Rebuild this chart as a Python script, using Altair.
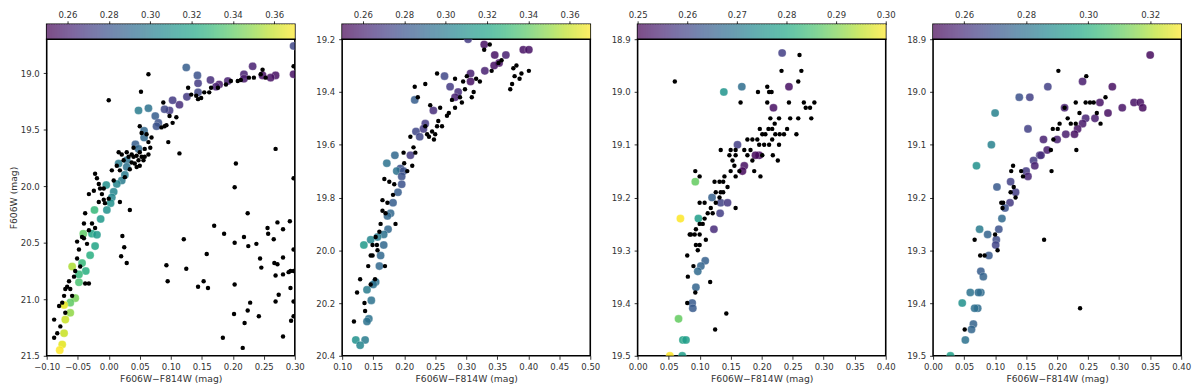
import altair as alt
import numpy as np
import pandas as pd

# ---------------- data ----------------
# Panel 1: black field/cluster stars (colour, magnitude)
black1 = [
    (0.064, 19.01), (0.052, 19.165), (0.000, 19.24), (0.128, 19.13), (0.133, 19.19), (0.144, 19.23),
    (0.149, 19.22), (0.154, 19.17), (0.162, 19.17), (0.176, 19.13), (0.189, 19.10), (0.197, 19.07),
    (0.208, 19.07), (0.226, 19.04), (0.234, 19.04), (0.248, 18.97), (0.253, 19.04), (0.245, 19.01),
    (0.298, 18.94), (0.088, 19.26), (0.098, 19.38), (0.109, 19.39), (0.085, 19.48), (0.090, 19.47),
    (0.050, 19.47), (0.053, 19.53), (0.061, 19.54), (0.069, 19.57), (0.064, 19.61), (0.040, 19.66),
    (0.050, 19.70), (0.058, 19.67), (0.064, 19.72), (0.053, 19.74), (0.048, 19.77), (0.042, 19.80),
    (0.037, 19.79), (0.032, 19.74), (0.021, 19.72), (0.016, 19.70), (0.024, 19.77), (0.013, 19.82),
    (0.018, 19.86), (0.026, 19.92), (0.005, 19.86), (0.008, 19.95), (-0.022, 19.89), (-0.019, 19.93),
    (-0.014, 20.02), (-0.024, 20.04), (-0.011, 20.07), (-0.008, 20.12), (-0.016, 20.14), (-0.006, 20.15),
    (0.000, 20.11), (0.018, 20.14), (0.034, 20.21), (-0.032, 20.07), (-0.038, 20.24), (-0.040, 20.33),
    (-0.027, 20.33), (-0.032, 20.39), (-0.022, 20.37), (-0.043, 20.45), (-0.051, 20.49), (-0.040, 20.46),
    (-0.035, 20.51), (-0.048, 20.56), (-0.051, 20.64), (-0.046, 20.71), (-0.054, 20.75), (-0.056, 20.80),
    (-0.064, 20.84), (-0.067, 20.89), (-0.072, 20.97), (-0.075, 21.03), (-0.080, 21.06), (-0.070, 21.12),
    (-0.088, 21.18), (-0.083, 21.30), (-0.088, 21.34), (-0.078, 21.24), (-0.038, 20.86), (-0.032, 20.86),
    (-0.062, 20.91), (-0.059, 20.97), (-0.070, 20.91),
    (0.045, 19.73), (0.056, 19.77), (0.050, 19.82), (0.040, 19.74), (0.058, 19.74), (0.045, 19.83),
    (0.034, 19.85), (0.029, 19.70), (0.037, 19.72), (0.067, 19.66), (-0.016, 19.98), (-0.008, 20.02),
    (0.165, 19.13), (0.213, 19.06), (0.141, 19.20), (0.103, 19.44), (0.093, 19.46),
    (0.096, 19.61), (0.114, 19.71), (0.205, 19.80), (0.203, 20.01), (0.269, 19.67), (0.298, 19.93),
    (0.022, 20.44), (0.025, 20.54), (0.020, 20.62), (0.029, 20.68), (0.121, 20.47), (0.158, 20.60),
    (0.093, 20.70), (0.125, 20.73), (0.095, 20.84), (0.144, 20.89), (0.153, 20.84), (0.160, 20.90),
    (0.170, 20.35), (0.186, 20.42), (0.203, 20.50), (0.203, 20.87), (0.218, 20.45), (0.224, 20.24),
    (0.225, 20.53), (0.238, 20.51), (0.256, 20.37), (0.257, 20.42), (0.272, 20.32), (0.281, 20.38),
    (0.292, 20.31), (0.266, 20.47), (0.244, 20.64), (0.246, 20.72), (0.267, 20.68), (0.272, 20.69),
    (0.281, 20.63), (0.269, 20.79), (0.281, 20.78), (0.290, 20.76), (0.293, 20.75), (0.298, 20.75),
    (0.293, 20.90), (0.298, 20.56), (0.274, 20.96), (0.269, 21.02), (0.298, 21.02), (0.228, 21.03),
    (0.224, 21.10), (0.202, 21.13), (0.242, 21.15), (0.219, 21.21), (0.184, 21.34), (0.216, 21.43),
    (0.281, 21.33), (0.298, 21.15), (0.294, 21.19),
]
# Panel 1: coloured stars (colour, magnitude, colour-bar value)
color1 = [
    (0.298, 18.76, 0.275), (0.298, 19.01, 0.255), (0.269, 19.02, 0.255), (0.261, 19.04, 0.255),
    (0.248, 19.02, 0.255), (0.232, 18.94, 0.26), (0.218, 19.01, 0.26), (0.218, 19.05, 0.258),
    (0.192, 19.07, 0.26), (0.178, 19.10, 0.258), (0.173, 19.12, 0.26), (0.164, 19.06, 0.265),
    (0.144, 19.09, 0.27), (0.144, 19.17, 0.275), (0.125, 18.95, 0.285), (0.143, 19.02, 0.28),
    (0.126, 19.21, 0.27), (0.114, 19.28, 0.265), (0.103, 19.24, 0.27), (0.098, 19.33, 0.27),
    (0.090, 19.32, 0.275), (0.064, 19.31, 0.295), (0.048, 19.33, 0.30), (0.075, 19.38, 0.285),
    (0.080, 19.44, 0.28), (0.077, 19.47, 0.28), (0.057, 19.57, 0.29), (0.057, 19.51, 0.29),
    (0.043, 19.63, 0.285), (0.048, 19.67, 0.29), (0.029, 19.77, 0.295), (0.016, 19.80, 0.30),
    (0.029, 19.83, 0.295), (0.026, 19.90, 0.30), (0.021, 19.95, 0.30), (0.013, 19.98, 0.305),
    (-0.004, 19.99, 0.31), (0.008, 20.05, 0.305), (0.005, 20.10, 0.305), (0.003, 20.15, 0.31),
    (-0.003, 20.21, 0.31), (-0.023, 20.21, 0.33), (-0.013, 20.29, 0.315), (-0.027, 20.42, 0.32),
    (-0.019, 20.43, 0.315), (-0.022, 20.53, 0.32), (-0.030, 20.61, 0.325), (-0.041, 20.42, 0.34),
    (-0.043, 20.68, 0.33), (-0.037, 20.75, 0.325), (-0.059, 20.71, 0.355), (-0.048, 20.85, 0.335),
    (-0.054, 20.99, 0.345), (-0.062, 21.03, 0.34), (-0.072, 21.05, 0.365), (-0.062, 21.12, 0.35),
    (-0.070, 21.18, 0.36), (-0.072, 21.30, 0.36), (-0.075, 21.40, 0.365), (-0.079, 21.45, 0.37),
    (-0.048, 20.78, 0.33),
]

black2 = [
    (0.329, 19.24), (0.338, 19.22), (0.352, 19.29), (0.357, 19.28), (0.341, 19.32), (0.376, 19.31),
    (0.381, 19.30), (0.389, 19.33), (0.401, 19.32), (0.378, 19.34), (0.386, 19.35), (0.374, 19.37),
    (0.371, 19.39), (0.316, 19.35), (0.322, 19.36), (0.301, 19.34), (0.295, 19.36), (0.282, 19.35),
    (0.312, 19.40), (0.309, 19.42), (0.298, 19.39), (0.290, 19.42), (0.293, 19.44), (0.277, 19.43),
    (0.282, 19.46), (0.272, 19.48), (0.269, 19.49), (0.258, 19.46), (0.255, 19.51), (0.261, 19.53),
    (0.253, 19.53), (0.245, 19.55), (0.250, 19.56), (0.237, 19.56), (0.248, 19.58), (0.240, 19.57),
    (0.234, 19.53), (0.242, 19.45), (0.253, 19.33), (0.234, 19.37), (0.217, 19.38), (0.222, 19.42),
    (0.210, 19.57), (0.215, 19.61), (0.218, 19.63), (0.199, 19.63), (0.200, 19.67), (0.213, 19.68),
    (0.205, 19.70), (0.168, 19.73), (0.176, 19.74), (0.184, 19.75), (0.182, 19.79), (0.165, 19.81),
    (0.173, 19.82), (0.165, 19.85), (0.170, 19.86), (0.186, 19.90), (0.162, 19.90), (0.160, 19.93),
    (0.154, 19.95), (0.149, 19.98), (0.156, 19.98), (0.157, 20.00), (0.149, 20.02), (0.146, 20.02),
    (0.142, 20.06), (0.169, 20.06), (0.153, 20.11), (0.129, 20.11), (0.124, 20.16), (0.146, 20.13),
    (0.136, 20.20), (0.137, 20.23), (0.119, 20.27),
]
color2 = [
    (0.303, 19.20, 0.27), (0.329, 19.22, 0.255), (0.346, 19.26, 0.255), (0.364, 19.26, 0.26),
    (0.392, 19.24, 0.255), (0.401, 19.24, 0.255), (0.353, 19.29, 0.255), (0.345, 19.30, 0.255),
    (0.330, 19.32, 0.26), (0.307, 19.33, 0.26), (0.307, 19.36, 0.255), (0.265, 19.34, 0.275),
    (0.274, 19.38, 0.27), (0.287, 19.40, 0.265), (0.282, 19.42, 0.26), (0.217, 19.43, 0.285),
    (0.247, 19.47, 0.265), (0.234, 19.52, 0.27), (0.231, 19.54, 0.27), (0.219, 19.55, 0.275),
    (0.225, 19.57, 0.275), (0.210, 19.64, 0.27), (0.185, 19.64, 0.29), (0.172, 19.67, 0.295),
    (0.194, 19.69, 0.28), (0.188, 19.70, 0.295), (0.199, 19.70, 0.28), (0.196, 19.72, 0.28),
    (0.196, 19.75, 0.28), (0.190, 19.78, 0.285), (0.182, 19.82, 0.285), (0.178, 19.86, 0.29),
    (0.173, 19.87, 0.29), (0.174, 19.92, 0.29), (0.167, 19.94, 0.295), (0.157, 19.95, 0.30),
    (0.146, 19.96, 0.305), (0.135, 19.98, 0.315), (0.167, 19.98, 0.29), (0.162, 20.02, 0.29),
    (0.160, 20.06, 0.29), (0.154, 20.12, 0.295), (0.150, 20.13, 0.295), (0.140, 20.15, 0.30),
    (0.147, 20.19, 0.295), (0.143, 20.26, 0.295), (0.140, 20.27, 0.295), (0.122, 20.34, 0.31),
    (0.137, 20.34, 0.30), (0.129, 20.36, 0.305),
]

black3 = [
    (0.060, 18.98), (0.261, 18.93), (0.264, 18.96), (0.232, 18.96), (0.259, 18.98), (0.209, 18.99),
    (0.212, 19.00), (0.216, 19.00), (0.194, 19.00), (0.166, 19.02), (0.209, 19.02), (0.244, 19.02),
    (0.285, 19.02), (0.268, 19.02), (0.271, 19.03), (0.278, 19.03), (0.280, 19.05), (0.259, 19.05),
    (0.246, 19.05), (0.228, 19.05), (0.221, 19.06), (0.214, 19.05), (0.211, 19.07), (0.197, 19.07),
    (0.217, 19.07), (0.229, 19.08), (0.222, 19.08), (0.236, 19.08), (0.241, 19.07), (0.256, 19.08),
    (0.206, 19.08), (0.201, 19.08), (0.193, 19.09), (0.185, 19.09), (0.177, 19.09), (0.217, 19.09),
    (0.228, 19.10), (0.212, 19.10), (0.204, 19.10), (0.196, 19.10), (0.182, 19.11), (0.172, 19.11),
    (0.158, 19.11), (0.150, 19.11), (0.134, 19.11), (0.148, 19.12), (0.158, 19.12), (0.177, 19.12),
    (0.185, 19.13), (0.201, 19.12), (0.218, 19.12), (0.226, 19.13), (0.198, 19.16), (0.188, 19.15),
    (0.153, 19.13), (0.156, 19.14), (0.150, 19.15), (0.158, 19.16), (0.164, 19.15), (0.093, 19.15),
    (0.100, 19.16), (0.140, 19.16), (0.138, 19.17), (0.132, 19.17), (0.124, 19.17), (0.145, 19.18),
    (0.134, 19.19), (0.126, 19.19), (0.138, 19.19), (0.132, 19.20), (0.100, 19.21), (0.108, 19.21),
    (0.126, 19.21), (0.158, 19.22), (0.118, 19.22), (0.113, 19.23), (0.121, 19.23), (0.108, 19.24),
    (0.105, 19.25), (0.100, 19.25), (0.094, 19.26), (0.086, 19.27), (0.084, 19.27), (0.092, 19.27),
    (0.100, 19.27), (0.110, 19.28), (0.094, 19.29), (0.097, 19.30), (0.100, 19.29), (0.080, 19.31),
    (0.090, 19.33), (0.081, 19.35), (0.117, 19.36), (0.093, 19.38), (0.080, 19.40), (0.143, 19.42),
    (0.125, 19.45),
]
color3 = [
    (0.233, 18.926, 0.259), (0.244, 18.99, 0.252), (0.168, 18.99, 0.268), (0.139, 19.00, 0.276),
    (0.219, 19.03, 0.252), (0.161, 19.10, 0.259), (0.196, 19.12, 0.251), (0.190, 19.12, 0.251),
    (0.172, 19.14, 0.252), (0.169, 19.15, 0.251), (0.093, 19.17, 0.288), (0.120, 19.20, 0.265),
    (0.134, 19.21, 0.26), (0.145, 19.21, 0.258), (0.133, 19.23, 0.259), (0.069, 19.24, 0.30),
    (0.098, 19.24, 0.278), (0.123, 19.26, 0.256), (0.109, 19.32, 0.265), (0.102, 19.33, 0.266),
    (0.097, 19.34, 0.267), (0.094, 19.37, 0.266), (0.088, 19.40, 0.264), (0.089, 19.41, 0.264),
    (0.066, 19.43, 0.288), (0.073, 19.47, 0.279), (0.078, 19.47, 0.278), (0.052, 19.50, 0.30),
    (0.072, 19.50, 0.278),
]

black4 = [
    (0.202, 18.96), (0.247, 18.97), (0.278, 19.01), (0.230, 19.02), (0.246, 19.02), (0.253, 19.02),
    (0.259, 19.02), (0.264, 19.04), (0.217, 19.05), (0.236, 19.04), (0.212, 19.03), (0.270, 19.06),
    (0.204, 19.06), (0.201, 19.07), (0.193, 19.07), (0.222, 19.06), (0.230, 19.06), (0.190, 19.11),
    (0.194, 19.09), (0.231, 19.11), (0.191, 19.15), (0.129, 19.14), (0.126, 19.15), (0.142, 19.15),
    (0.145, 19.16), (0.125, 19.19), (0.130, 19.18), (0.133, 19.20), (0.110, 19.21), (0.113, 19.21),
    (0.112, 19.22), (0.067, 19.28), (0.100, 19.27), (0.104, 19.30), (0.076, 19.31), (0.083, 19.31),
    (0.179, 19.28), (0.237, 19.41), (0.051, 19.45),
]
color4 = [
    (0.350, 18.93, 0.252), (0.241, 18.98, 0.256), (0.289, 18.99, 0.253), (0.185, 18.99, 0.265),
    (0.156, 19.01, 0.265), (0.139, 19.01, 0.27), (0.100, 19.04, 0.285), (0.269, 19.02, 0.254),
    (0.212, 19.03, 0.257), (0.305, 19.03, 0.254), (0.324, 19.02, 0.254), (0.334, 19.02, 0.253),
    (0.338, 19.03, 0.252), (0.282, 19.04, 0.253), (0.261, 19.05, 0.256), (0.246, 19.05, 0.258),
    (0.241, 19.06, 0.255), (0.233, 19.07, 0.254), (0.228, 19.08, 0.253), (0.214, 19.08, 0.256),
    (0.153, 19.07, 0.265), (0.094, 19.10, 0.285), (0.200, 19.09, 0.257), (0.178, 19.09, 0.257),
    (0.184, 19.11, 0.256), (0.172, 19.12, 0.262), (0.174, 19.12, 0.26), (0.162, 19.13, 0.263),
    (0.164, 19.14, 0.257), (0.070, 19.14, 0.29), (0.150, 19.15, 0.263), (0.153, 19.16, 0.258),
    (0.125, 19.17, 0.265), (0.133, 19.19, 0.264), (0.103, 19.18, 0.272), (0.124, 19.21, 0.263),
    (0.116, 19.22, 0.27), (0.111, 19.24, 0.277), (0.075, 19.26, 0.283), (0.088, 19.27, 0.275),
    (0.106, 19.26, 0.27), (0.102, 19.28, 0.268), (0.101, 19.29, 0.266), (0.090, 19.31, 0.272),
    (0.077, 19.34, 0.273), (0.081, 19.35, 0.275), (0.077, 19.38, 0.278), (0.073, 19.38, 0.278),
    (0.060, 19.38, 0.28), (0.047, 19.40, 0.29), (0.072, 19.41, 0.278), (0.067, 19.41, 0.279),
    (0.065, 19.44, 0.275), (0.062, 19.45, 0.276), (0.052, 19.47, 0.28), (0.028, 19.50, 0.295),
]

# axis ranges and tick labels
x_domains = [[-0.10, 0.30], [0.10, 0.50], [0.00, 0.40], [0.00, 0.40]]
x_ticks = [
    [-0.10, -0.05, 0.00, 0.05, 0.10, 0.15, 0.20, 0.25, 0.30],
    [0.10, 0.15, 0.20, 0.25, 0.30, 0.35, 0.40, 0.45, 0.50],
    [0.00, 0.05, 0.10, 0.15, 0.20, 0.25, 0.30, 0.35, 0.40],
    [0.00, 0.05, 0.10, 0.15, 0.20, 0.25, 0.30, 0.35, 0.40],
]
y_domains = [[18.7, 21.5], [19.2, 20.4], [18.9, 19.5], [18.9, 19.5]]
y_ticks = [
    [19.0, 19.5, 20.0, 20.5, 21.0, 21.5],
    [19.2, 19.4, 19.6, 19.8, 20.0, 20.2, 20.4],
    [18.9, 19.0, 19.1, 19.2, 19.3, 19.4, 19.5],
    [18.9, 19.0, 19.1, 19.2, 19.3, 19.4, 19.5],
]
c_domains = [[0.25, 0.37], [0.25, 0.37], [0.25, 0.30], [0.25, 0.33]]
c_ticks = [
    [0.26, 0.28, 0.30, 0.32, 0.34, 0.36],
    [0.26, 0.28, 0.30, 0.32, 0.34, 0.36],
    [0.25, 0.26, 0.27, 0.28, 0.29, 0.30],
    [0.26, 0.28, 0.30, 0.32],
]
x_title = "F606W\u2212F814W (mag)"
y_title = "F606W (mag)"

# ---------------- styling ----------------
W, H, CB_H = 250, 319, 15
FONT = "DejaVu Sans"
VIRIDIS = ["#440154", "#482475", "#414487", "#355f8d", "#2a788e", "#21918c",
           "#22a884", "#44bf70", "#7ad151", "#bddf26", "#fde725"]


def lighten(hexc, a=0.7):
    r, g, b = (int(hexc[i:i + 2], 16) for i in (1, 3, 5))
    f = lambda c: int(round(c * a + 255 * (1 - a)))
    return "#%02x%02x%02x" % (f(r), f(g), f(b))


VIRIDIS_LIGHT = [lighten(c) for c in VIRIDIS]


def colorbar(cdom, cticks):
    n = 150
    edges = np.linspace(cdom[0], cdom[1], n + 1)
    step = edges[1] - edges[0]
    df = pd.DataFrame({"a": edges[:-1], "b": np.minimum(edges[1:] + step * 0.6, cdom[1]),
                       "v": (edges[:-1] + edges[1:]) / 2})
    return alt.Chart(df).mark_rect(strokeWidth=0).encode(
        x=alt.X("a:Q", scale=alt.Scale(domain=cdom, nice=False, zero=False),
                axis=alt.Axis(orient="top", values=cticks, format=".2f", title=None,
                              labelPadding=1.5)),
        x2="b:Q",
        color=alt.Color("v:Q", scale=alt.Scale(domain=cdom, range=VIRIDIS_LIGHT), legend=None),
    ).properties(width=W, height=CB_H)


def scatter(black, colored, xdom, xt, ydom, yt, cdom, show_ytitle):
    dfb = pd.DataFrame(black, columns=["x", "y"])
    dfc = pd.DataFrame(colored, columns=["x", "y", "v"])
    xenc = alt.X("x:Q", scale=alt.Scale(domain=xdom, nice=False, zero=False),
                 axis=alt.Axis(values=xt, format=".2f", title=x_title))
    yax = alt.Axis(values=yt, format=".1f", title=y_title) if show_ytitle else \
        alt.Axis(values=yt, format=".1f", title=None)
    yenc = alt.Y("y:Q", scale=alt.Scale(domain=ydom, nice=False, zero=False, reverse=True), axis=yax)
    pts_c = alt.Chart(dfc).mark_circle(size=66, opacity=0.85, clip=True, stroke="white",
                                       strokeWidth=0.6, strokeOpacity=0.5).encode(
        x=xenc, y=yenc,
        color=alt.Color("v:Q", scale=alt.Scale(scheme="viridis", domain=cdom, clamp=True), legend=None),
    )
    pts_b = alt.Chart(dfb).mark_circle(size=20, color="black", opacity=1, clip=True).encode(x=xenc, y=yenc)
    return alt.layer(pts_c, pts_b).properties(width=W, height=H)


blacks = [black1, black2, black3, black4]
colors = [color1, color2, color3, color4]

bars = [colorbar(c_domains[i], c_ticks[i]) for i in range(4)]
plots = [scatter(blacks[i], colors[i], x_domains[i], x_ticks[i], y_domains[i], y_ticks[i],
                 c_domains[i], i == 0) for i in range(4)]

chart = alt.concat(
    *bars, *plots, columns=4, spacing={"row": 0, "column": 47.7}, bounds="flush"
).resolve_scale(
    x="independent", y="independent", color="independent"
).properties(
    padding={"left": 0, "top": 0, "right": 0, "bottom": 0}
).configure_view(
    stroke="black", strokeWidth=1.6
).configure_axis(
    labelFont=FONT, titleFont=FONT, labelFontSize=8.6, titleFontSize=9.3,
    titleFontWeight="normal", labelColor="#333333", titleColor="#333333",
    tickColor="black", tickSize=3.5, tickWidth=0.8, domain=False, grid=False,
    labelOverlap=False, labelFlush=False,
).configure_axisX(
    labelPadding=3, titlePadding=4
).configure_axisY(
    labelPadding=4, titlePadding=2
)

chart.save("out.html", embed_options={"renderer": "svg", "actions": False})
